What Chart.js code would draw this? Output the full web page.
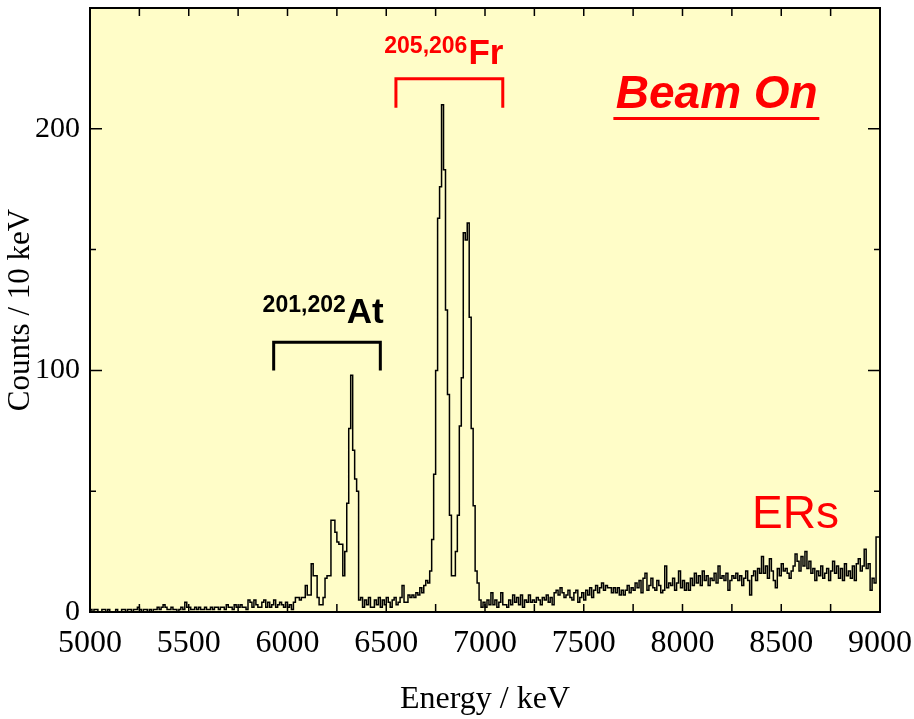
<!DOCTYPE html>
<html>
<head>
<meta charset="utf-8">
<title>Beam On spectrum</title>
<script src="https://cdn.jsdelivr.net/npm/chart.js@4.4.1/dist/chart.umd.min.js"></script>
<style>
  html, body { margin: 0; padding: 0; background: #fff; }
  #wrap { width: 914px; height: 719px; }
</style>
</head>
<body>
<div id="wrap"><canvas id="spectrum" width="914" height="719"></canvas></div>
<script>
// histogram binning (keV)
const binStart = 5000;
const binWidth = 10;

// counts per 10 keV bin
const counts5000 = [42,
  1,0,1,1,0,0,1,1,0,1, 0,0,0,1,0,0,1,1,0,1,
  1,0,1,1,2,1,0,1,1,0, 1,0,1,1,2,1,2,3,2,1,
  1,2,1,1,0,1,2,1,4,2, 2,1,1,2,1,2,1,1,2,1,
  1,2,1,2,2,1,2,2,1,3, 2,2,1,3,2,2,3,2,2,1,
  5,4,2,5,3,2,2,4,5,2, 4,2,3,5,2,3,4,3,2];
const counts6000 = [4,
  2,3,1,4,6,6,5,6,6,11,7,7,
  20,15,15,6,3,3,6,14,15,15,38,38,33,29,28,28,15,25,45,76,98,67,55,50,
  5,6,2,5,3,6,2,2,5,3,6,2,5,3,6,4,2,5,6,3,4,
  6,11,4,4,7,6,7,6,8,7,10,8,11,13,12,
  17,30,57,100,163,176,210,183,125,90,40,15,15,25,40,77,97,157,154,161,122,76,44,17,12,
  5,2];
const counts7000 = [4,2,5,3,8,3,5,2,4,8,3,
  3,2,5,3, 7,4,6,3,7,2,5,4,
  7,4,5,4,6,5,3,6,5,7,4,6,3,8,
  9,7,10,8,6,7,9,6,5,8, 9,4,6,8,5,9,7,10,6,9,
  11,8,10,12,9,11,10,10,8,10, 8,10,7,9,7,9,11,8,10,9,
  12,10,13,8,14,16,9, 11,14,10,9,13,11,8,9,19,10,
  12,11,14,9,12,17];
const counts8000 = [10,13,9,
  12,9,14,11,16,12,15,11, 17,13,15,11,14,13,16,12,19,14,
  15,13,16,9,13,15,14,16,13,15,11,14,17,13,
  7,15,17,13,18,16,23, 16,19,14,22,17,13, 10,18,15,20,17,
  18,16,14,17,19, 24,21,17,23,19,25,18,21,16,
  18,13,17,15,19,14,16, 18,13,17,21,16,19,14,18,
  13,20,15,17,14,19,13,20, 22,17,19,26,18, 20,9,14,12,31];

const xTicks = [5000, 5500, 6000, 6500, 7000, 7500, 8000, 8500, 9000];
const yTicks = [0, 100, 200];

const counts = counts5000.concat(counts6000, counts7000, counts8000);
const binEnd = binStart + counts.length * binWidth;

// step outline: rise at the first edge, one point per bin start, drop at the last edge
const outline = [{ x: binStart, y: 0 }];
counts.forEach((c, i) => outline.push({ x: binStart + i * binWidth, y: c }));
outline.push({ x: binEnd, y: counts[counts.length - 1] });
outline.push({ x: binEnd, y: 0 });

// keep the plot box where the original has it, whatever the edge labels need
function noMargins(s) {
  s.paddingLeft = 0; s.paddingRight = 0; s.paddingTop = 0; s.paddingBottom = 0;
}

// frame, inward ticks and the labels drawn on the plot
const framePlugin = {
  id: 'framePlugin',
  beforeDraw(chart) {
    const { ctx, chartArea: a } = chart;
    ctx.save();
    ctx.fillStyle = '#FFFDC8';
    ctx.fillRect(a.left, a.top, a.right - a.left, a.bottom - a.top);
    ctx.restore();
  },
  afterDatasetsDraw(chart) {
    const { ctx, chartArea: a } = chart;
    const xs = chart.scales.x, ys = chart.scales.y;
    ctx.save();
    ctx.strokeStyle = '#000';
    ctx.lineWidth = 1.5;
    ctx.beginPath();
    for (let e = 5250; e < 9000; e += 250) {
      const px = xs.getPixelForValue(e);
      ctx.moveTo(px, a.bottom); ctx.lineTo(px, a.bottom - 8);
      ctx.moveTo(px, a.top); ctx.lineTo(px, a.top + 8);
    }
    for (let v = 50; v < 250; v += 50) {
      const py = ys.getPixelForValue(v);
      const len = v % 100 === 0 ? 12 : 6;
      ctx.moveTo(a.left, py); ctx.lineTo(a.left + len, py);
      ctx.moveTo(a.right, py); ctx.lineTo(a.right - len, py);
    }
    ctx.stroke();
    ctx.lineWidth = 2;
    ctx.strokeRect(a.left, a.top, a.right - a.left, a.bottom - a.top);

    const X = v => xs.getPixelForValue(v);
    const Y = v => ys.getPixelForValue(v);

    // 201,202At with bracket
    ctx.fillStyle = '#000';
    ctx.textBaseline = 'alphabetic';
    ctx.textAlign = 'left';
    ctx.font = 'bold 23px "Liberation Sans", Arial, sans-serif';
    ctx.fillText('201,202', X(5874), Y(124));
    let w = ctx.measureText('201,202').width;
    ctx.font = 'bold 35px "Liberation Sans", Arial, sans-serif';
    ctx.fillText('At', X(5874) + w + 1, Y(119.5));
    ctx.lineWidth = 3;
    ctx.beginPath();
    ctx.moveTo(X(5930), Y(100)); ctx.lineTo(X(5930), Y(111.7));
    ctx.lineTo(X(6470), Y(111.7)); ctx.lineTo(X(6470), Y(100));
    ctx.stroke();

    // 205,206Fr with bracket
    ctx.fillStyle = '#FF0000';
    ctx.strokeStyle = '#FF0000';
    ctx.font = 'bold 23px "Liberation Sans", Arial, sans-serif';
    ctx.fillText('205,206', X(6490), Y(231.4));
    w = ctx.measureText('205,206').width;
    ctx.font = 'bold 35px "Liberation Sans", Arial, sans-serif';
    ctx.fillText('Fr', X(6490) + w + 1, Y(227));
    ctx.beginPath();
    ctx.moveTo(X(6549), Y(208.7)); ctx.lineTo(X(6549), Y(220.7));
    ctx.lineTo(X(7090), Y(220.7)); ctx.lineTo(X(7090), Y(208.7));
    ctx.stroke();

    // Beam On
    ctx.font = 'italic bold 46px "Liberation Sans", Arial, sans-serif';
    ctx.fillText('Beam On', X(7662), Y(208.5));
    w = ctx.measureText('Beam On').width;
    ctx.beginPath();
    ctx.moveTo(X(7650), Y(204.3)); ctx.lineTo(X(7650) + w + 4, Y(204.3));
    ctx.stroke();

    // ERs
    ctx.font = '46px "Liberation Sans", Arial, sans-serif';
    ctx.fillText('ERs', X(8352), Y(34.7));
    ctx.restore();
  }
};

const serif = '"Liberation Serif", "Times New Roman", serif';

new Chart(document.getElementById('spectrum'), {
  type: 'line',
  data: {
    datasets: [{
      data: outline,
      stepped: 'after',
      borderColor: '#000',
      borderWidth: 1.5,
      pointRadius: 0,
      fill: false
    }]
  },
  options: {
    responsive: false,
    animation: false,
    layout: { padding: { top: 8, right: 34, left: 0, bottom: 0 } },
    plugins: { legend: { display: false }, tooltip: { enabled: false } },
    scales: {
      x: {
        type: 'linear',
        min: 5000,
        max: 9000,
        afterBuildTicks: s => { s.ticks = xTicks.map(v => ({ value: v })); },
        afterFit: s => { s.height = 107; noMargins(s); },
        grid: { display: false, drawTicks: false },
        border: { display: false },
        ticks: {
          maxRotation: 0,
          padding: 12,
          color: '#000',
          font: { family: serif, size: 32 },
          callback: v => String(v)
        },
        title: {
          display: true,
          text: 'Energy / keV',
          color: '#000',
          font: { family: serif, size: 32 },
          padding: 0
        }
      },
      y: {
        min: 0,
        max: 250,
        afterBuildTicks: s => { s.ticks = yTicks.map(v => ({ value: v })); },
        afterFit: s => { s.width = 90; noMargins(s); },
        grid: { display: false, drawTicks: false },
        border: { display: false },
        ticks: {
          padding: 10,
          color: '#000',
          font: { family: serif, size: 30 },
          callback: v => String(v)
        },
        title: {
          display: true,
          text: 'Counts / 10 keV',
          color: '#000',
          font: { family: serif, size: 31 },
          padding: { top: 2, bottom: 0 }
        }
      }
    }
  },
  plugins: [framePlugin]
});
</script>
</body>
</html>
